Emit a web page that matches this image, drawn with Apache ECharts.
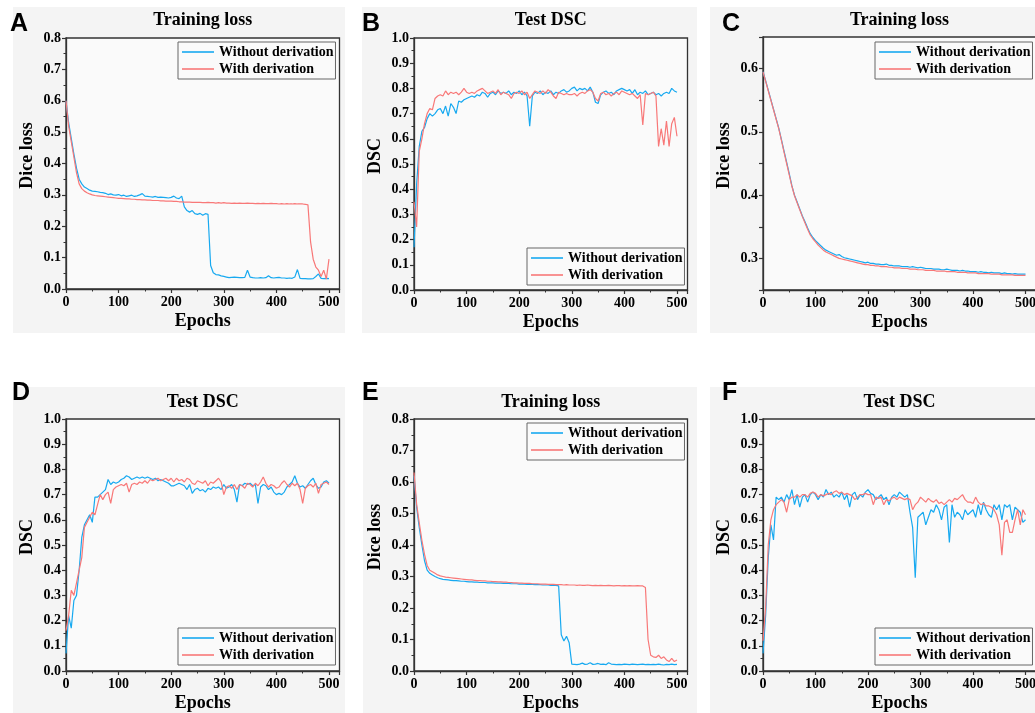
<!DOCTYPE html>
<html>
<head>
<meta charset="utf-8">
<script src="https://cdn.jsdelivr.net/npm/echarts/dist/echarts.min.js"></script>
<style>
html,body{margin:0;padding:0;background:#fff;}
#chart{width:1035px;height:713px;}
</style>
</head>
<body>
<div id="chart"></div>
<script>
// ---------- DATA ----------
const epochs = [0,5,10,15,20,25,30,35,40,45,50,55,60,65,70,75,80,85,90,95,
100,105,110,115,120,125,130,135,140,145,150,155,160,165,170,175,180,185,190,195,
200,205,210,215,220,225,230,235,240,245,250,255,260,265,270,275,280,285,290,295,
300,305,310,315,320,325,330,335,340,345,350,355,360,365,370,375,380,385,390,395,
400,405,410,415,420,425,430,435,440,445,450,455,460,465,470,475,480,485,490,495,500];

const seriesNames = ['Without derivation','With derivation'];
const panelLetters = ['A','B','C','D','E','F'];
const panelTitles = ['Training loss','Test DSC','Training loss','Test DSC','Training loss','Test DSC'];
const yAxisNames = ['Dice loss','DSC','Dice loss','DSC','Dice loss','DSC'];
const xAxisName = 'Epochs';
const yMin = [0,0,0.25,0,0,0];
const yMax = [0.8,1.0,0.65,1.0,0.8,1.0];
const yStep = [0.1,0.1,0.05,0.1,0.1,0.1];
const xMin = 0, xMax = 520, xStep = 100;

const aWithout = [0.600,0.530,0.480,0.430,0.385,0.350,0.335,0.325,0.320,0.315,
0.312,0.311,0.310,0.308,0.307,0.305,0.301,0.303,0.300,0.299,
0.301,0.297,0.299,0.295,0.297,0.299,0.295,0.297,0.300,0.304,
0.296,0.295,0.294,0.293,0.295,0.292,0.293,0.292,0.291,0.290,
0.292,0.296,0.290,0.288,0.296,0.262,0.250,0.245,0.250,0.240,
0.238,0.241,0.235,0.240,0.238,0.075,0.052,0.046,0.045,0.042,
0.040,0.038,0.036,0.037,0.038,0.037,0.036,0.036,0.037,0.060,
0.038,0.036,0.035,0.035,0.036,0.035,0.036,0.042,0.036,0.035,
0.036,0.037,0.035,0.035,0.034,0.035,0.034,0.038,0.062,0.034,
0.033,0.033,0.032,0.032,0.033,0.040,0.048,0.034,0.033,0.034,0.033];
const aWith = [0.600,0.520,0.470,0.420,0.370,0.335,0.320,0.312,0.307,0.303,
0.300,0.298,0.297,0.296,0.295,0.294,0.293,0.292,0.291,0.290,
0.289,0.289,0.288,0.287,0.287,0.286,0.286,0.285,0.285,0.284,
0.284,0.283,0.283,0.282,0.282,0.282,0.281,0.281,0.280,0.280,
0.280,0.279,0.279,0.278,0.278,0.277,0.277,0.277,0.276,0.276,
0.276,0.276,0.275,0.275,0.276,0.275,0.275,0.274,0.275,0.274,
0.275,0.274,0.274,0.273,0.274,0.273,0.274,0.273,0.273,0.274,
0.273,0.273,0.272,0.273,0.272,0.273,0.272,0.272,0.273,0.272,
0.272,0.271,0.272,0.271,0.272,0.271,0.271,0.272,0.271,0.271,
0.271,0.270,0.268,0.150,0.095,0.070,0.060,0.040,0.060,0.032,0.095];

const bWithout = [0.17,0.42,0.57,0.63,0.645,0.68,0.70,0.69,0.70,0.715,
0.72,0.70,0.73,0.69,0.74,0.725,0.70,0.75,0.745,0.755,
0.76,0.765,0.77,0.765,0.775,0.77,0.785,0.78,0.765,0.78,
0.785,0.775,0.79,0.78,0.785,0.78,0.79,0.775,0.785,0.78,
0.79,0.775,0.785,0.77,0.65,0.77,0.785,0.78,0.79,0.775,
0.785,0.78,0.79,0.775,0.785,0.78,0.79,0.795,0.785,0.79,
0.80,0.805,0.79,0.80,0.795,0.80,0.79,0.805,0.785,0.745,
0.74,0.775,0.785,0.79,0.78,0.785,0.775,0.79,0.795,0.80,
0.795,0.79,0.795,0.78,0.795,0.775,0.785,0.78,0.79,0.775,
0.78,0.785,0.775,0.78,0.77,0.78,0.785,0.78,0.80,0.79,0.785];
const bWith = [0.35,0.25,0.55,0.60,0.66,0.70,0.72,0.715,0.76,0.77,
0.775,0.77,0.79,0.775,0.785,0.78,0.785,0.775,0.785,0.80,
0.785,0.78,0.785,0.78,0.79,0.795,0.80,0.79,0.78,0.785,
0.79,0.78,0.795,0.775,0.785,0.78,0.775,0.76,0.78,0.785,
0.78,0.79,0.775,0.785,0.76,0.775,0.79,0.785,0.78,0.79,
0.78,0.795,0.785,0.77,0.76,0.785,0.78,0.775,0.78,0.775,
0.775,0.78,0.77,0.78,0.785,0.78,0.79,0.795,0.785,0.76,
0.75,0.78,0.785,0.775,0.78,0.77,0.78,0.785,0.775,0.79,
0.785,0.78,0.775,0.78,0.77,0.76,0.775,0.655,0.78,0.775,
0.78,0.785,0.77,0.57,0.64,0.575,0.67,0.57,0.66,0.685,0.61];

const cWithout = [0.595,0.581,0.566,0.551,0.536,0.521,0.506,0.488,0.470,0.452,
0.434,0.415,0.400,0.389,0.378,0.367,0.358,0.348,0.339,0.333,
0.328,0.324,0.320,0.316,0.313,0.311,0.309,0.307,0.305,0.306,
0.303,0.301,0.300,0.299,0.298,0.297,0.296,0.295,0.294,0.293,
0.294,0.292,0.292,0.291,0.291,0.290,0.290,0.291,0.289,0.289,
0.288,0.288,0.288,0.287,0.287,0.287,0.286,0.287,0.286,0.285,
0.286,0.285,0.284,0.284,0.284,0.283,0.283,0.283,0.282,0.282,
0.283,0.282,0.281,0.281,0.281,0.280,0.281,0.280,0.280,0.279,
0.279,0.279,0.278,0.279,0.278,0.278,0.277,0.278,0.277,0.277,
0.277,0.276,0.277,0.276,0.276,0.275,0.276,0.275,0.275,0.275,0.275];
const cWith = [0.595,0.580,0.565,0.550,0.535,0.520,0.505,0.487,0.468,0.450,
0.432,0.414,0.399,0.388,0.377,0.366,0.356,0.346,0.337,0.331,
0.326,0.321,0.317,0.313,0.310,0.308,0.306,0.304,0.302,0.300,
0.299,0.298,0.297,0.296,0.295,0.294,0.293,0.292,0.291,0.290,
0.290,0.289,0.289,0.288,0.288,0.287,0.287,0.287,0.286,0.286,
0.285,0.285,0.285,0.284,0.284,0.284,0.283,0.283,0.283,0.282,
0.282,0.282,0.281,0.281,0.281,0.281,0.280,0.280,0.280,0.280,
0.279,0.279,0.279,0.279,0.278,0.278,0.278,0.278,0.277,0.277,
0.277,0.277,0.276,0.276,0.276,0.276,0.276,0.275,0.275,0.275,
0.275,0.274,0.274,0.274,0.274,0.274,0.273,0.273,0.273,0.273,0.273];

const dWithout = [0.07,0.22,0.17,0.28,0.30,0.40,0.53,0.58,0.60,0.62,
0.59,0.69,0.69,0.70,0.71,0.72,0.76,0.74,0.75,0.745,
0.75,0.76,0.765,0.775,0.77,0.76,0.765,0.77,0.765,0.77,
0.765,0.77,0.765,0.76,0.765,0.755,0.76,0.755,0.75,0.745,
0.735,0.735,0.74,0.745,0.74,0.735,0.72,0.74,0.705,0.72,
0.725,0.715,0.72,0.71,0.725,0.72,0.73,0.725,0.73,0.72,
0.74,0.725,0.73,0.74,0.72,0.67,0.74,0.735,0.745,0.74,
0.745,0.735,0.74,0.665,0.73,0.74,0.735,0.72,0.73,0.71,
0.70,0.705,0.70,0.71,0.73,0.74,0.75,0.775,0.745,0.73,
0.735,0.725,0.74,0.755,0.765,0.74,0.725,0.73,0.75,0.755,0.745];
const dWith = [0.16,0.22,0.32,0.30,0.35,0.40,0.45,0.57,0.59,0.61,
0.63,0.62,0.66,0.70,0.68,0.70,0.71,0.665,0.72,0.73,
0.735,0.74,0.735,0.745,0.71,0.74,0.745,0.74,0.75,0.745,
0.755,0.745,0.76,0.755,0.76,0.765,0.755,0.76,0.765,0.755,
0.765,0.75,0.765,0.755,0.76,0.75,0.765,0.76,0.745,0.74,
0.755,0.75,0.745,0.755,0.735,0.75,0.745,0.755,0.765,0.75,
0.70,0.73,0.735,0.725,0.74,0.72,0.74,0.735,0.725,0.745,
0.74,0.73,0.745,0.735,0.75,0.77,0.745,0.73,0.74,0.735,
0.725,0.73,0.745,0.755,0.74,0.73,0.745,0.735,0.745,0.72,
0.665,0.725,0.735,0.74,0.73,0.745,0.705,0.74,0.745,0.75,0.74];

const eWithout = [0.62,0.52,0.455,0.40,0.35,0.32,0.31,0.305,0.30,0.296,
0.293,0.291,0.290,0.289,0.288,0.287,0.287,0.286,0.285,0.285,
0.284,0.283,0.283,0.282,0.282,0.281,0.281,0.281,0.280,0.280,
0.280,0.279,0.279,0.279,0.278,0.278,0.278,0.277,0.277,0.277,
0.276,0.276,0.276,0.275,0.275,0.275,0.274,0.274,0.274,0.273,
0.273,0.273,0.272,0.272,0.272,0.270,0.115,0.095,0.110,0.090,
0.022,0.021,0.020,0.022,0.025,0.021,0.022,0.026,0.021,0.022,
0.024,0.021,0.022,0.020,0.026,0.022,0.021,0.020,0.021,0.020,
0.022,0.021,0.020,0.022,0.021,0.020,0.021,0.022,0.020,0.021,
0.020,0.021,0.020,0.022,0.020,0.019,0.021,0.020,0.022,0.020,0.021];
const eWith = [0.63,0.53,0.47,0.415,0.37,0.335,0.32,0.315,0.31,0.305,
0.302,0.300,0.298,0.297,0.296,0.295,0.294,0.293,0.292,0.291,
0.290,0.289,0.289,0.288,0.287,0.287,0.286,0.286,0.285,0.285,
0.284,0.284,0.283,0.283,0.282,0.282,0.281,0.281,0.280,0.280,
0.279,0.279,0.278,0.278,0.278,0.277,0.277,0.277,0.276,0.276,
0.276,0.275,0.275,0.275,0.274,0.274,0.274,0.273,0.274,0.273,
0.273,0.273,0.272,0.273,0.272,0.272,0.273,0.272,0.271,0.272,
0.271,0.272,0.271,0.271,0.272,0.271,0.270,0.271,0.271,0.270,
0.271,0.270,0.271,0.270,0.270,0.271,0.270,0.270,0.265,0.100,
0.050,0.045,0.043,0.050,0.040,0.045,0.035,0.030,0.040,0.030,0.035];

const fWithout = [0.07,0.22,0.45,0.58,0.52,0.69,0.68,0.69,0.67,0.70,
0.68,0.72,0.66,0.70,0.65,0.69,0.70,0.67,0.70,0.71,
0.70,0.68,0.70,0.69,0.72,0.70,0.71,0.69,0.70,0.69,
0.71,0.68,0.70,0.65,0.70,0.71,0.68,0.70,0.69,0.71,
0.72,0.705,0.70,0.68,0.69,0.70,0.68,0.69,0.66,0.69,
0.70,0.69,0.71,0.70,0.69,0.70,0.63,0.57,0.37,0.61,
0.62,0.63,0.58,0.61,0.64,0.63,0.66,0.64,0.60,0.65,
0.66,0.51,0.66,0.61,0.63,0.62,0.60,0.64,0.62,0.63,
0.64,0.61,0.66,0.62,0.67,0.64,0.62,0.61,0.66,0.64,
0.66,0.60,0.66,0.65,0.66,0.60,0.65,0.64,0.63,0.59,0.60];
const fWith = [0.12,0.25,0.50,0.60,0.64,0.66,0.67,0.68,0.67,0.63,
0.68,0.69,0.69,0.70,0.69,0.70,0.70,0.69,0.705,0.71,
0.705,0.69,0.70,0.695,0.70,0.705,0.70,0.71,0.715,0.705,
0.71,0.70,0.705,0.70,0.695,0.68,0.69,0.70,0.70,0.705,
0.70,0.70,0.66,0.69,0.685,0.69,0.66,0.68,0.675,0.685,
0.69,0.68,0.69,0.685,0.68,0.685,0.68,0.64,0.66,0.67,
0.69,0.68,0.67,0.685,0.675,0.67,0.68,0.665,0.67,0.66,
0.67,0.68,0.67,0.685,0.68,0.69,0.70,0.68,0.67,0.67,
0.665,0.69,0.67,0.66,0.665,0.655,0.655,0.65,0.64,0.62,
0.58,0.46,0.59,0.60,0.55,0.55,0.60,0.64,0.58,0.64,0.62];

const panelData = [[aWithout,aWith],[bWithout,bWith],[cWithout,cWith],[dWithout,dWith],[eWithout,eWith],[fWithout,fWith]];

// ---------- STYLE / LAYOUT ----------
const BLUE = '#17a9f0';
const RED = '#f87878';
const SERIF = 'Liberation Serif';
const grids = [
  {left:66, top:38, width:273.5, height:251},
  {left:414, top:38, width:273.5, height:252},
  {left:763, top:37, width:273, height:253},
  {left:66, top:419, width:273.5, height:252},
  {left:414, top:419, width:273.5, height:252},
  {left:763, top:419, width:273, height:252}
];
const panels = [
  {x:13,y:7,w:332,h:326},{x:362,y:7,w:335,h:326},{x:710,y:7,w:325,h:326},
  {x:13,y:387,w:332,h:326},{x:363,y:387,w:334,h:326},{x:710,y:387,w:325,h:326}
];
const letterPos = [[10,24],[362,24],[722,24],[12,393],[362,393],[722,393]];
const titleY = [20,20,20,402,402,402];
const legendPos = [[178,42],[527,248],[875,42],[178,628],[527,423],[875,628]];

const chart = echarts.init(document.getElementById('chart'), null, {renderer:'canvas'});

const graphic = [];
panels.forEach(p => graphic.push({type:'rect', shape:{x:p.x,y:p.y,width:p.w,height:p.h}, style:{fill:'#f4f4f4'}, z:-10, silent:true}));
panelLetters.forEach((L,i) => graphic.push({type:'text', x:letterPos[i][0], y:letterPos[i][1], style:{text:L, font:'bold 25px "Liberation Sans"', fill:'#000', align:'left', verticalAlign:'middle'}, z:10}));
panelTitles.forEach((t,i) => graphic.push({type:'text', x:grids[i].left + grids[i].width/2, y:titleY[i], style:{text:t, font:'bold 18px "Liberation Serif"', fill:'#000', align:'center', verticalAlign:'middle'}, z:10}));

const gridOpts = grids.map(g => Object.assign({}, g, {show:true, backgroundColor:'#fafafa', borderColor:'#333', borderWidth:1.3, containLabel:false, outerBoundsMode:'none'}));

const xAxes = grids.map((g,i) => ({
  type:'value', gridIndex:i, min:xMin, max:xMax, interval:xStep,
  name:xAxisName, nameLocation:'middle', nameGap:23,
  nameTextStyle:{fontFamily:SERIF, fontWeight:'bold', fontSize:18, color:'#000'},
  axisLine:{show:true, lineStyle:{color:'#333', width:1.3}},
  axisTick:{show:true, inside:false, length:4, lineStyle:{color:'#333', width:1.2}},
  minorTick:{show:true, splitNumber:2, length:2.5, lineStyle:{color:'#333', width:1}},
  splitLine:{show:false}, minorSplitLine:{show:false},
  axisLabel:{fontFamily:SERIF, fontWeight:'bold', fontSize:14, color:'#000', margin:6, hideOverlap:false,
    formatter: v => (Math.round(v) % 100 === 0 && v <= 500) ? String(Math.round(v)) : ''}
}));

const yAxes = grids.map((g,i) => ({
  type:'value', gridIndex:i, min:yMin[i], max:yMax[i], interval:yStep[i],
  name:yAxisNames[i], nameLocation:'middle', nameGap:30, nameRotate:90, nameMoveOverlap:false,
  nameTextStyle:{fontFamily:SERIF, fontWeight:'bold', fontSize:18, color:'#000', padding:[0,0,0,16]},
  axisLine:{show:true, lineStyle:{color:'#333', width:1.3}},
  axisTick:{show:true, inside:false, length:4, lineStyle:{color:'#333', width:1.2}},
  minorTick:{show: yStep[i] >= 0.1, splitNumber:2, length:2.5, lineStyle:{color:'#333', width:1}},
  splitLine:{show:false}, minorSplitLine:{show:false},
  axisLabel:{fontFamily:SERIF, fontWeight:'bold', fontSize:14, color:'#000', margin:5, hideOverlap:false,
    formatter: v => { const t = v*10; return Math.abs(t - Math.round(t)) < 1e-6 ? v.toFixed(1) : ''; }}
}));

const series = [];
panelData.forEach((pair,i) => {
  [BLUE, RED].forEach((col,k) => {
    series.push({
      type:'line', name:seriesNames[k], xAxisIndex:i, yAxisIndex:i,
      data: epochs.map((e,j) => [e, pair[k][j]]),
      symbol:'none', showSymbol:false, smooth:false,
      lineStyle:{color:col, width:1.2}, itemStyle:{color:col},
      z: 2 + k, animation:false
    });
  });
});

const legends = legendPos.map(p => ({
  left:p[0], top:p[1], orient:'vertical', icon:'rect', itemWidth:32, itemHeight:1.6, itemGap:3,
  padding:[3,2,3,4], borderColor:'#666', borderWidth:1, backgroundColor:'#fafafa',
  textStyle:{fontFamily:SERIF, fontWeight:'bold', fontSize:14, color:'#000', lineHeight:14},
  data: seriesNames, selectedMode:false
}));

chart.setOption({
  backgroundColor:'#ffffff',
  animation:false,
  graphic: graphic,
  grid: gridOpts,
  xAxis: xAxes,
  yAxis: yAxes,
  legend: legends,
  series: series
});
</script>
</body>
</html>
